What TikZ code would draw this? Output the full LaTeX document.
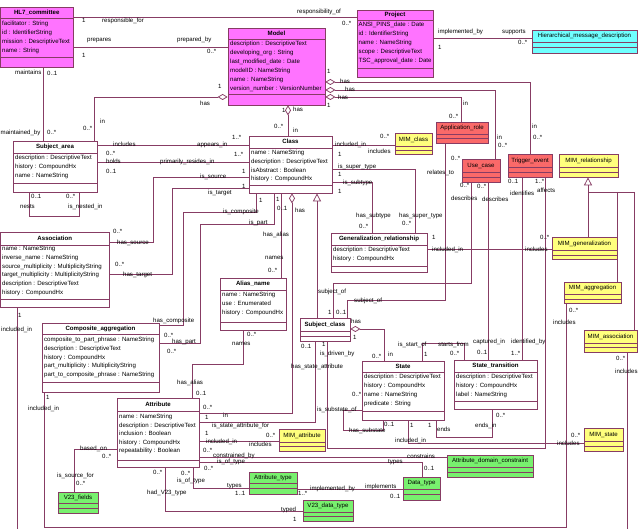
\documentclass[tikz,border=0pt]{standalone}
\usepackage{fontspec}
\setmainfont{Liberation Sans}
\usetikzlibrary{arrows.meta,fit}
\definecolor{lc}{RGB}{135,60,100}
\definecolor{cmag}{RGB}{255,115,255}
\definecolor{ccyan}{RGB}{112,255,255}
\definecolor{cred}{RGB}{250,105,105}
\definecolor{cyel}{RGB}{255,255,125}
\definecolor{cgrn}{RGB}{120,240,110}
\newcounter{labc}
\newcommand\lab[3]{\stepcounter{labc}\node[lbl] (lab\arabic{labc}) at (#1,#2) {#3};}
\newcommand\umlbox[9]{%
  \node[box, fill=#8, fit={(#2,#3) (#4,#5)}] (#1) {};
  \draw[ln] (#2,#6) -- (#4,#6);
  \draw[ln] (#2,#7) -- (#4,#7);
  \node[hdr] (#1t) at ({(#2+#4)/2},{(#3+#6)/2}) {#9};
}
\newcommand\attrs[5]{%
  \foreach \t [count=\i] in {#5} {\node[att] (#1a\i) at (#2,{#3+(\i-1)*#4}) {\t};}
}
\begin{document}
\begin{tikzpicture}[x=1pt,y=-1pt,
  box/.style={draw=lc, line width=0.75pt, inner sep=0pt},
  ln/.style={draw=lc, line width=0.75pt},
  txt/.style={inner sep=0pt, font=\fontsize{6.1}{7}\selectfont, text height=4.4pt, text depth=1.3pt},
  att/.style={txt, anchor=west},
  lbl/.style={txt, anchor=west},
  hdr/.style={txt, anchor=center},
  agg/.style={ln, {Diamond[length=10pt,width=6pt,fill=white]}-},
  gen/.style={ln, -{Triangle[length=8pt,width=8pt,fill=white]}}]
\fill[white] (0,0) rectangle (641,529);
\useasboundingbox (0,0) rectangle (641,529);

% ---------- boxes ----------
\umlbox{hl7}{0.5}{7}{73}{67}{18}{57}{cmag}{\bfseries HL7\_committee}
\attrs{hl7}{2}{24}{9}{facilitator : String, id : IdentifierString, mission : DescriptiveText, name : String}
\umlbox{model}{228}{28}{325}{105}{39}{94}{cmag}{\bfseries Model}
\attrs{model}{230}{44}{9}{description : DescriptiveText, developing\_org : String, last\_modified\_date : Date, modelID : NameString, name : NameString, version\_number : VersionNumber}
\umlbox{project}{357}{10}{433}{77}{20}{68}{cmag}{\bfseries Project}
\attrs{project}{358.5}{25}{9}{ANSI\_PINS\_date : Date, id : IdentifierString, name : NameString, scope : DescriptiveText, TSC\_approval\_date : Date}
\umlbox{hmd}{532}{30}{637}{53}{42}{47}{ccyan}{Hierarchical\_message\_description}
\umlbox{sa}{13}{141}{97}{192}{153}{183}{white}{\bfseries Subject\_area}
\attrs{sa}{15}{158}{9}{description : DescriptiveText, history : CompoundHx, name : NameString}
\umlbox{class}{249}{136}{332}{193}{148}{185}{white}{\bfseries Class}
\attrs{class}{251}{153}{8.8}{name : NameString, description : DescriptiveText, isAbstract : Boolean, history : CompoundHx}
\umlbox{mimclass}{395}{133}{432}{154}{146}{150}{cyel}{MIM\_class}
\umlbox{approle}{436}{122}{488}{143}{134}{138}{cred}{Application\_role}
\umlbox{usecase}{462}{159}{500}{182}{172}{177}{cred}{Use\_case}
\umlbox{trig}{508}{154}{552}{177}{167}{172}{cred}{Trigger\_event}
\umlbox{mimrel}{559}{154}{618}{177}{167}{172}{cyel}{MIM\_relationship}
\umlbox{gen}{331}{233}{427}{272}{245}{266}{white}{\bfseries Generalization\_relationship}
\attrs{gen}{333}{250}{9}{description : DescriptiveText, history : CompoundHx}
\umlbox{mimgen}{552}{237}{617}{259}{250}{255}{cyel}{MIM\_generalization}
\umlbox{assoc}{0.5}{232}{109}{307}{245}{299}{white}{\bfseries Association}
\attrs{assoc}{2}{249}{8.8}{name : NameString, inverse\_name : NameString, source\_multiplicity : MultiplicityString, target\_multiplicity : MultiplicityString, description : DescriptiveText, history : CompoundHx}
\umlbox{alias}{220}{278}{286}{330}{290}{322}{white}{\bfseries Alias\_name}
\attrs{alias}{222}{295}{9}{name : NameString, use : Enumerated, history : CompoundHx}
\umlbox{sc}{300}{318}{350}{341}{331}{336}{white}{\bfseries Subject\_class}
\umlbox{comp}{42}{323}{159}{392}{334}{382}{white}{\bfseries Composite\_aggregation}
\attrs{comp}{44}{340}{8.8}{composite\_to\_part\_phrase : NameString, description : DescriptiveText, history : CompoundHx, part\_multiplicity : MultiplicityString, part\_to\_composite\_phrase : NameString}
\umlbox{mimagg}{564}{282}{621}{303}{294}{299}{cyel}{MIM\_aggregation}
\umlbox{mimassoc}{584}{330}{637}{352}{343}{347}{cyel}{MIM\_association}
\umlbox{state}{362}{361}{444}{420}{372}{411}{white}{\bfseries State}
\attrs{state}{364}{377}{9}{description : DescriptiveText, history : CompoundHx, name : NameString, predicate : String}
\umlbox{st}{454}{360}{537}{409}{372}{401}{white}{\bfseries State\_transition}
\attrs{st}{456}{377}{9}{description : DescriptiveText, history : CompoundHx, label : NameString}
\umlbox{attr}{117}{398}{199}{467}{411}{460}{white}{\bfseries Attribute}
\attrs{attr}{119}{417}{8.6}{name : NameString, description : DescriptiveText, inclusion : Boolean, history : CompoundHx, repeatability : Boolean}
\umlbox{mimattr}{279}{429}{325}{451}{442}{446}{cyel}{MIM\_attribute}
\umlbox{mimstate}{584}{428}{623}{451}{441}{446}{cyel}{MIM\_state}
\umlbox{v23f}{58}{492}{98}{513}{503}{508}{cgrn}{V23\_fields}
\umlbox{atype}{249}{472}{297}{494}{483}{488}{cgrn}{Attribute\_type}
\umlbox{v23dt}{303}{500}{353}{521}{512}{516}{cgrn}{V23\_data\_type}
\umlbox{dt}{403}{477}{440}{500}{489}{494}{cgrn}{Data\_type}
\umlbox{adc}{447}{455}{533}{477}{467}{472}{cgrn}{Attribute\_domain\_constraint}

% ---------- connectors ----------
\draw[ln] (hl7.east |- 0,17) -- (project.west |- 0,17);
\draw[ln] (hl7.east |- 0,47) -- (model.west |- 0,47);
\draw[ln] (project.east |- 0,38) -- (hmd.west |- 0,38);
\draw[ln] (hl7.south -| 43,0) -- (sa.north -| 43,0);
\draw[agg] (model.west |- 0,97) -- (94,97) -- (sa.north -| 94,0);
\draw[agg] (model.south -| 288,0) -- (class.north -| 288,0);
\draw[agg] (model.east |- 0,82) -- (530,82) -- (trig.north -| 530,0);
\draw[agg] (model.east |- 0,90) -- (495,90) -- (usecase.north -| 495,0);
\draw[agg] (model.east |- 0,97) -- (461,97) -- (approle.north -| 461,0);
\draw[ln] (sa.east |- 0,145) -- (class.west |- 0,145);
\draw[ln] (sa.east |- 0,162) -- (class.west |- 0,162);
\draw[ln] (sa.south -| 29,0) -- (29,216) -- (79,216) -- (sa.south -| 79,0);
\draw[ln] (class.west |- 0,177) -- (153,177) -- (153,242) -- (assoc.east |- 0,242);
\draw[ln] (class.west |- 0,188) -- (172,188) -- (172,274) -- (assoc.east |- 0,274);
\draw[ln] (class.south -| 256,0) -- (256,212) -- (183,212) -- (183,325) -- (comp.east |- 0,325);
\draw[ln] (class.south -| 274,0) -- (274,224) -- (200,224) -- (200,343) -- (comp.east |- 0,343);
\draw[ln] (class.south -| 281,0) -- (alias.north -| 281,0);
\draw[agg] (class.south -| 292,0) -- (292,413) -- (attr.east |- 0,413);
\draw[gen] (sc.north -| 317,0) -- (class.south -| 317,0);
\draw[ln] (class.east |- 0,145) -- (mimclass.west |- 0,145);
\draw[ln] (class.east |- 0,169) -- (415,169) -- (gen.north -| 415,0);
\draw[ln] (class.east |- 0,182) -- (372,182) -- (gen.north -| 372,0);
\draw[ln] (gen.east |- 0,249) -- (mimgen.west |- 0,249);
\draw[gen] (mimgen.north -| 588,0) -- (mimrel.south -| 588,0);
\draw[ln] (588,192) -- (634,192);
\draw[ln] (617,192) -- (mimagg.north -| 617,0);
\draw[ln] (634,192) -- (mimassoc.north -| 634,0);
\draw[ln] (mimagg.south -| 566,0) -- (566,527) -- (44,527) -- (comp.south -| 44,0);
\draw[ln] (mimassoc.south -| 627,0) -- (627,532) -- (17,532) -- (assoc.south -| 17,0);
\draw[ln] (alias.south -| 243,0) -- (243,364) -- (192,364) -- (attr.north -| 192,0);
\draw[agg] (sc.east |- 0,329) -- (384,329) -- (state.north -| 384,0);
\draw[ln] (sc.north -| 333,0) -- (333,283) -- (471,283) -- (usecase.south -| 471,0);
\draw[ln] (sc.north -| 347,0) -- (347,300) -- (445,300) -- (approle.south -| 445,0);
\draw[ln] (usecase.south -| 488,0) -- (st.north -| 488,0);
\draw[ln] (trig.south -| 522,0) -- (st.north -| 522,0);
\draw[ln] (trig.south -| 545,0) -- (545,448) -- (327,448) -- (sc.south -| 327,0);
\draw[ln] (sc.south -| 315,0) -- (315,422) -- (attr.east |- 0,422);
\draw[ln] (state.north -| 422,0) -- (422,343) -- (464,343) -- (st.north -| 464,0);
\draw[ln] (state.south -| 436,0) -- (436,437) -- (492,437) -- (st.south -| 492,0);
\draw[ln] (state.west |- 0,410) -- (343,410) -- (343,430) -- (383,430) -- (state.south -| 383,0);
\draw[ln] (state.south -| 408,0) -- (408,443) -- (mimstate.west |- 0,443);
\draw[ln] (attr.east |- 0,441) -- (mimattr.west |- 0,441);
\draw[ln] (attr.east |- 0,457) -- (adc.west |- 0,457);
\draw[ln] (attr.east |- 0,462) -- (422,462) -- (dt.north -| 422,0);
\draw[ln] (attr.west |- 0,449) -- (74,449) -- (v23f.north -| 74,0);
\draw[ln] (attr.south -| 193,0) -- (193,488) -- (atype.west |- 0,488);
\draw[ln] (attr.south -| 165,0) -- (165,511) -- (v23dt.west |- 0,511);
\draw[ln] (atype.east |- 0,489) -- (dt.west |- 0,489);

% ---------- labels ----------
\lab{82}{21}{1}
\lab{102}{21}{responsible\_for}
\lab{297}{12}{responsibility\_of}
\lab{342}{24}{0..*}
\lab{87}{40}{prepares}
\lab{177}{40}{prepared\_by}
\lab{82}{56}{1}
\lab{207}{52}{0..*}
\lab{438}{32}{implemented\_by}
\lab{502}{32}{supports}
\lab{438}{48}{1}
\lab{518}{43}{0..*}
\lab{15}{73}{maintains}
\lab{47}{74}{0..1}
\lab{0.5}{133}{maintained\_by}
\lab{47}{133}{0..*}
\lab{327}{72}{1}
\lab{340}{82}{has}
\lab{345}{90}{has}
\lab{338}{98}{has}
\lab{327}{106}{1}
\lab{218}{87}{1}
\lab{200}{104}{has}
\lab{282}{111}{1}
\lab{293}{110}{has}
\lab{274}{127}{0..*}
\lab{293}{131}{in}
\lab{100}{122}{in}
\lab{83}{129}{0..*}
\lab{463}{104}{in}
\lab{449}{117}{0..*}
\lab{532}{127}{in}
\lab{533}{138}{0..*}
\lab{497}{138}{in}
\lab{498}{146}{0..*}
\lab{451}{159}{0..*}
\lab{427}{173}{relates\_to}
\lab{460}{186}{0..*}
\lab{477}{187}{0..*}
\lab{451}{199}{describes}
\lab{482}{200}{describes}
\lab{508}{182}{0..1}
\lab{535}{182}{1..*}
\lab{510}{194}{identifies}
\lab{537}{191}{affects}
\lab{113}{145}{includes}
\lab{197}{145}{appears\_in}
\lab{232}{138}{1..*}
\lab{106}{154}{0..*}
\lab{106}{162}{holds}
\lab{160}{162}{primarily\_resides\_in}
\lab{234}{155}{1..*}
\lab{106}{172}{0..1}
\lab{200}{177}{is\_source}
\lab{242}{172}{1}
\lab{208}{193}{is\_target}
\lab{242}{187}{1}
\lab{31}{197}{0..1}
\lab{66}{197}{0..*}
\lab{20}{207}{nests}
\lab{68}{207}{is\_nested\_in}
\lab{259}{201}{1}
\lab{276}{200}{1}
\lab{277}{209}{0..1}
\lab{295}{211}{has}
\lab{223}{212}{is\_composite}
\lab{249}{223}{is\_part}
\lab{263}{235}{has\_alias}
\lab{265}{258}{names}
\lab{268}{271}{0..*}
\lab{335}{145}{included\_in}
\lab{338}{155}{1}
\lab{380}{137}{0..*}
\lab{368}{152}{includes}
\lab{338}{167}{is\_super\_type}
\lab{338}{175}{1}
\lab{343}{183}{is\_subtype}
\lab{338}{192}{1}
\lab{356}{216}{has\_subtype}
\lab{359}{227}{0..*}
\lab{399}{216}{has\_super\_type}
\lab{402}{224}{0..*}
\lab{432}{238}{1}
\lab{432}{250}{included\_in}
\lab{540}{238}{0..*}
\lab{525}{250}{includes}
\lab{113}{232}{0..*}
\lab{117}{243}{has\_source}
\lab{115}{265}{0..*}
\lab{123}{275}{has\_target}
\lab{18}{316}{1}
\lab{1}{330}{included\_in}
\lab{153}{321}{has\_composite}
\lab{164}{336}{0..*}
\lab{172}{342}{has\_part}
\lab{167}{352}{0..*}
\lab{177}{383}{has\_alias}
\lab{196}{394}{0..1}
\lab{247}{335}{0..*}
\lab{232}{344}{names}
\lab{318}{292}{subject\_of}
\lab{354}{301}{subject\_of}
\lab{328}{313}{1}
\lab{336}{313}{0..1}
\lab{351}{322}{has}
\lab{353}{338}{1}
\lab{301}{347}{0..1}
\lab{322}{345}{1}
\lab{320}{354}{is\_driven\_by}
\lab{291}{367}{has\_state\_attribute}
\lab{372}{357}{0..*}
\lab{388}{355}{in}
\lab{398}{345}{is\_start\_of}
\lab{424}{355}{1}
\lab{438}{345}{starts\_from}
\lab{450}{354}{0..*}
\lab{473}{342}{captured\_in}
\lab{477}{353}{0..1}
\lab{511}{342}{identified\_by}
\lab{511}{354}{1..*}
\lab{569}{311}{0..*}
\lab{553}{323}{includes}
\lab{616}{359}{0..*}
\lab{615}{372}{includes}
\lab{352}{395}{0..*}
\lab{317}{410}{is\_substate\_of}
\lab{384}{425}{0..1}
\lab{410}{426}{1}
\lab{349}{431}{has\_substate}
\lab{395}{441}{included\_in}
\lab{428}{426}{1}
\lab{437}{430}{ends}
\lab{475}{426}{ends\_in}
\lab{496}{416}{0..*}
\lab{571}{436}{0..*}
\lab{557}{444}{includes}
\lab{46}{398}{1}
\lab{28}{409}{included\_in}
\lab{203}{408}{0..*}
\lab{205}{418}{1}
\lab{205}{434}{1}
\lab{203}{451}{0..*}
\lab{204}{469}{0..*}
\lab{223}{416}{in}
\lab{212}{426}{is\_state\_attribute\_for}
\lab{206}{442}{included\_in}
\lab{266}{436}{0..*}
\lab{249}{445}{includes}
\lab{213}{456}{constrained\_by}
\lab{217}{462}{is\_of\_type}
\lab{388}{462}{types}
\lab{407}{457}{constrains}
\lab{424}{469}{0..1}
\lab{80}{449}{based\_on}
\lab{102}{457}{0..*}
\lab{57}{476}{is\_source\_for}
\lab{76}{484}{0..*}
\lab{153}{473}{0..*}
\lab{181}{474}{0..*}
\lab{177}{481}{is\_of\_type}
\lab{147}{493}{had\_V23\_type}
\lab{227}{486}{types}
\lab{235}{494}{1..1}
\lab{310}{489}{implemented\_by}
\lab{298}{494}{1..*}
\lab{365}{487}{implements}
\lab{390}{497}{0..1}
\lab{281}{510}{typed}
\lab{293}{520}{1}
\end{tikzpicture}
\end{document}
